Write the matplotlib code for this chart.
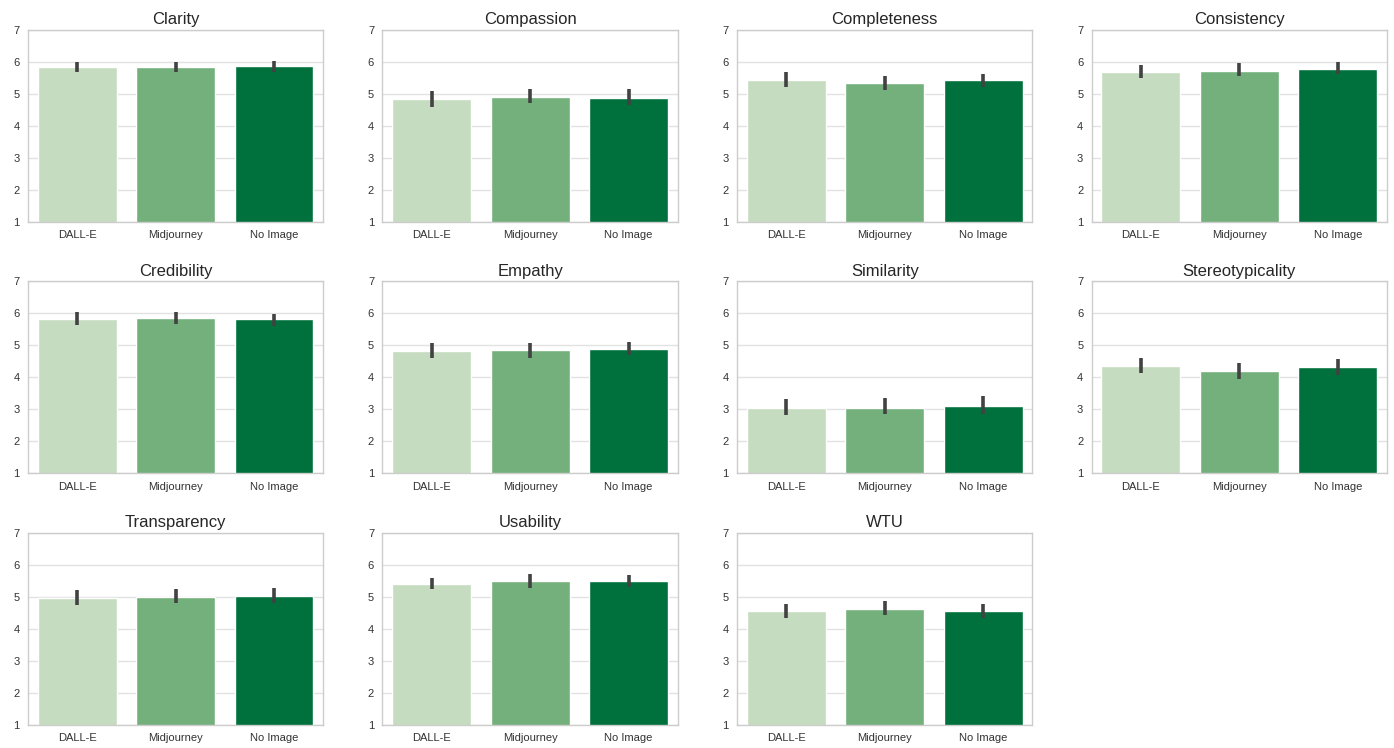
import matplotlib
matplotlib.use("Agg")
import matplotlib.pyplot as plt
import seaborn as sns

# conditions and metrics
conditions = ["DALL-E", "Midjourney", "No Image"]
metrics = ["Clarity", "Compassion", "Completeness", "Consistency",
           "Credibility", "Empathy", "Similarity", "Stereotypicality",
           "Transparency", "Usability", "WTU"]

# mean rating per metric (DALL-E, Midjourney, No Image)
means = [
    [5.83, 5.83, 5.87],
    [4.84, 4.91, 4.88],
    [5.42, 5.34, 5.42],
    [5.70, 5.73, 5.79],
    [5.81, 5.87, 5.81],
    [4.83, 4.86, 4.90],
    [3.05, 3.05, 3.10],
    [4.36, 4.19, 4.32],
    [4.97, 4.99, 5.04],
    [5.40, 5.49, 5.49],
    [4.55, 4.63, 4.55],
]
# 95% CI bounds
ci_low = [
    [5.67, 5.67, 5.70],
    [4.58, 4.72, 4.66],
    [5.23, 5.13, 5.21],
    [5.49, 5.57, 5.63],
    [5.64, 5.68, 5.62],
    [4.60, 4.62, 4.70],
    [2.82, 2.86, 2.87],
    [4.13, 3.95, 4.07],
    [4.75, 4.81, 4.81],
    [5.23, 5.29, 5.30],
    [4.34, 4.42, 4.35],
]
ci_high = [
    [6.01, 6.00, 6.04],
    [5.10, 5.16, 5.14],
    [5.67, 5.57, 5.62],
    [5.90, 5.96, 6.00],
    [6.03, 6.05, 5.99],
    [5.06, 5.08, 5.10],
    [3.31, 3.34, 3.41],
    [4.60, 4.46, 4.57],
    [5.22, 5.25, 5.29],
    [5.60, 5.70, 5.68],
    [4.78, 4.88, 4.78],
]

COLORS = ["#c6dcc0", "#74b07b", "#00703c"]

sns.set_style("whitegrid")
plt.rcParams["font.family"] = ["Liberation Sans", "DejaVu Sans"]

fig, axes = plt.subplots(3, 4, figsize=(13.94, 7.48), dpi=100)
fig.subplots_adjust(left=0.020, right=0.995, top=0.960, bottom=0.031,
                    wspace=0.20, hspace=0.31)

for i, ax in enumerate(axes.flat):
    if i >= len(metrics):
        ax.axis("off")
        continue
    xs = range(len(conditions))
    ax.bar(xs, means[i], width=0.8, bottom=0, color=COLORS, zorder=2)
    for x, lo, hi in zip(xs, ci_low[i], ci_high[i]):
        ax.plot([x, x], [lo, hi], color="#424242", lw=2.6,
                solid_capstyle="butt", zorder=3)
    ax.set_ylim(1, 7)
    ax.set_xlim(-0.5, 2.5)
    ax.set_xticks(list(xs))
    ax.set_xticklabels(conditions)
    ax.set_yticks(range(1, 8))
    ax.tick_params(axis="x", labelsize=8, colors="#333333", pad=6, length=0)
    ax.tick_params(axis="y", labelsize=8, colors="#333333", pad=6, length=0)
    ax.set_title(metrics[i], fontsize=12, pad=4, color="#262626")
    ax.grid(axis="y", color="#e2e2e2", lw=1)
    ax.grid(axis="x", visible=False)
    ax.set_axisbelow(True)
    for sp in ax.spines.values():
        sp.set_color("#cccccc")
        sp.set_linewidth(1)

fig.savefig("out.png", dpi=100, facecolor="white")
